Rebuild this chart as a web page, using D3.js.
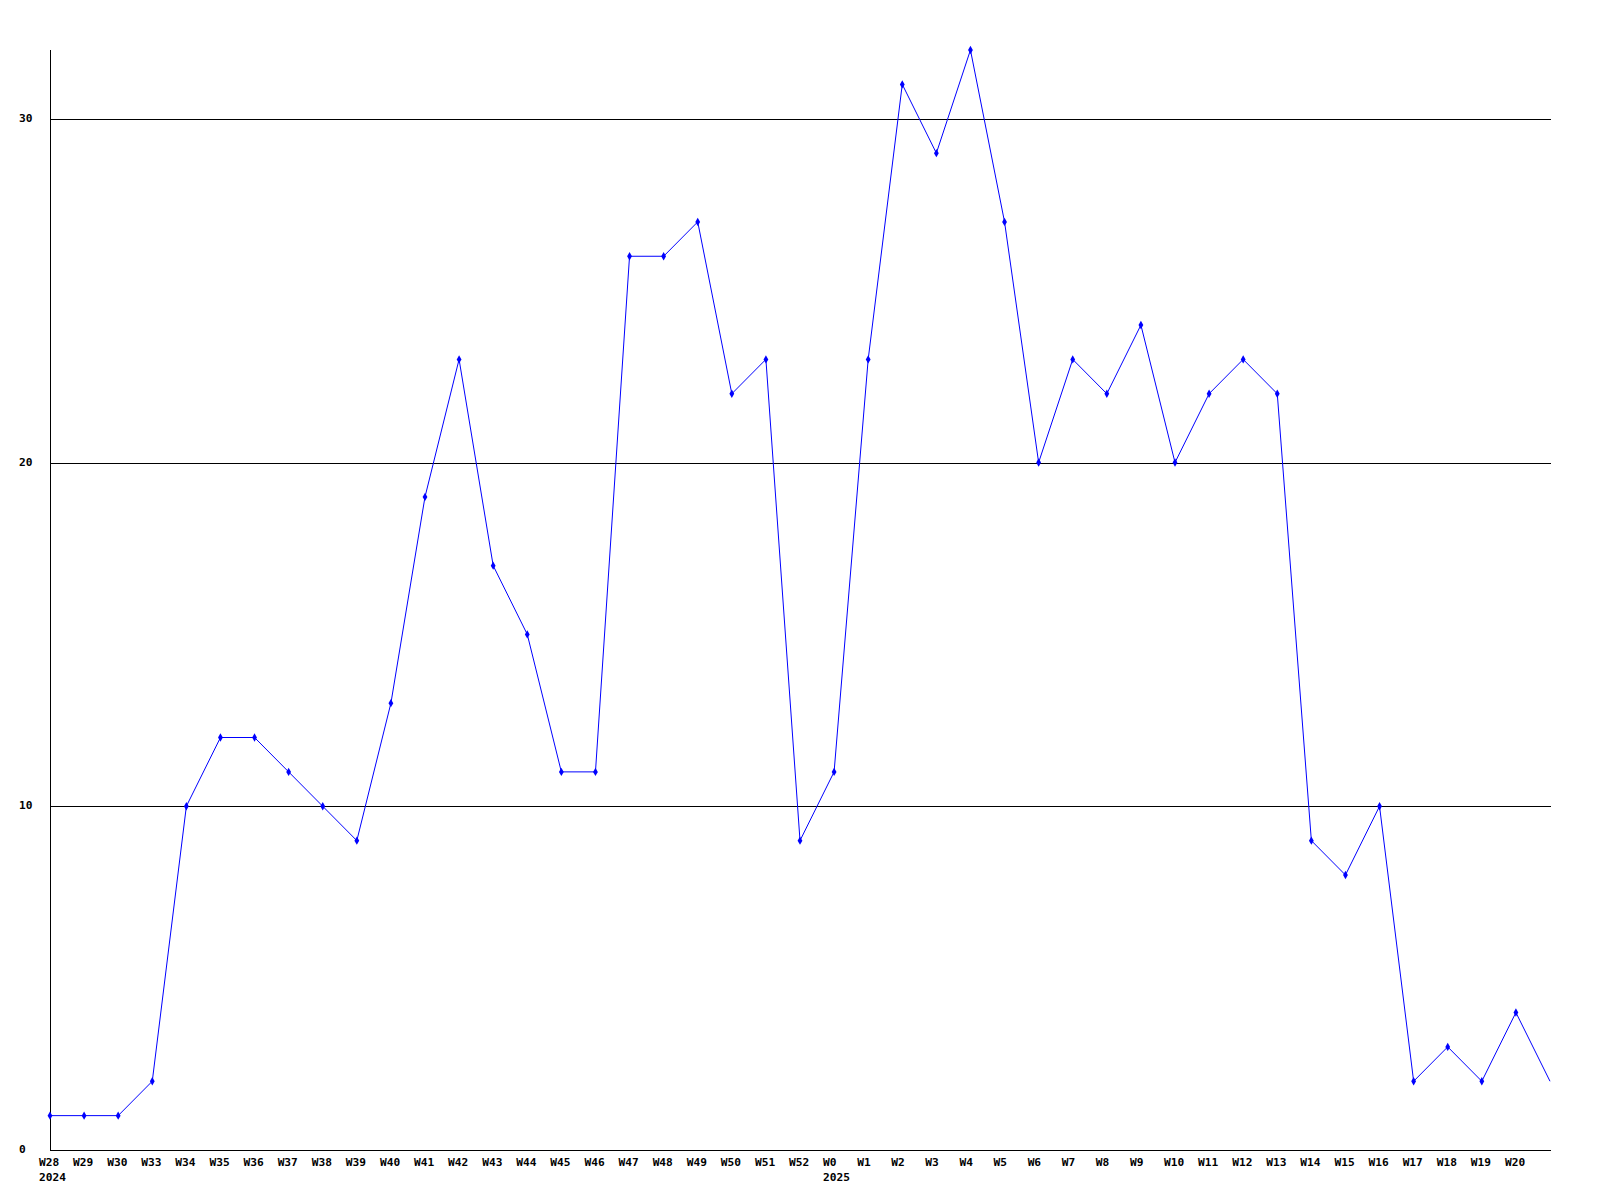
<!DOCTYPE html>
<html>
<head>
<meta charset="utf-8">
<script src="https://cdn.jsdelivr.net/npm/d3@7"></script>
<style>
  html, body { margin: 0; padding: 0; background: #fff; }
  svg { display: block; }
  text { font-family: "DejaVu Sans Mono", "Liberation Mono", monospace; font-weight: bold; font-size: 11.2px; fill: #000; }
</style>
</head>
<body>
<script>
// Week labels (x categories) shown under the axis
const weeks = ["W28","W29","W30","W33","W34","W35","W36","W37","W38","W39","W40","W41","W42","W43","W44","W45","W46","W47","W48","W49","W50","W51","W52",
               "W0","W1","W2","W3","W4","W5","W6","W7","W8","W9","W10","W11","W12","W13","W14","W15","W16","W17","W18","W19","W20"];
// trailing point at right edge (unlabelled, no marker)
const trailingWeek = "W21";
// Year labels placed under the first week of each year
const yearLabels = [{week: "W28", year: "2024"}, {week: "W0", year: "2025"}];
// Values per week (last value belongs to the trailing unlabelled point)
const values = [1,1,1,2,10,12,12,11,10,9,13,19,23,17,15,11,11,26,26,27,22,23,9,
                11,23,31,29,32,27,20,23,22,24,20,22,23,22,9,8,10,2,3,2,4,2];
const yTicks = [0,10,20,30];
const gridValues = [10,20,30];

const W = 1600, H = 1200;
const svg = d3.select("body").append("svg").attr("width", W).attr("height", H);

const allWeeks = weeks.concat([trailingWeek]);
const x = d3.scalePoint().domain(allWeeks).range([50, 1550]);
const y = d3.scaleLinear().domain([0, 32]).range([1150, 50]);

// gridlines
svg.append("g").selectAll("line").data(gridValues).join("line")
  .attr("x1", 50).attr("x2", 1551)
  .attr("y1", d => Math.round(y(d)) + 0.5).attr("y2", d => Math.round(y(d)) + 0.5)
  .attr("stroke", "#000").attr("stroke-width", 1).attr("shape-rendering", "crispEdges");

// axes lines
svg.append("line").attr("x1", 50.5).attr("x2", 50.5).attr("y1", 50).attr("y2", 1151)
  .attr("stroke", "#000").attr("shape-rendering", "crispEdges");
svg.append("line").attr("x1", 50).attr("x2", 1551).attr("y1", 1150.5).attr("y2", 1150.5)
  .attr("stroke", "#000").attr("shape-rendering", "crispEdges");

// y labels
svg.append("g").selectAll("text").data(yTicks).join("text")
  .attr("x", 19).attr("y", d => y(d) + 3)
  .text(d => d);

// x labels (left-aligned just before each point)
svg.append("g").selectAll("text").data(weeks).join("text")
  .attr("x", d => x(d) - 11).attr("y", 1166)
  .text(d => d);

// year labels, left aligned with week label
svg.append("g").selectAll("text").data(yearLabels).join("text")
  .attr("x", d => x(d.week) - 11).attr("y", 1181)
  .text(d => d.year);

// line
const pts = allWeeks.map((w, i) => ({w, v: values[i]}));
svg.append("path").datum(pts)
  .attr("d", d3.line().x(d => x(d.w)).y(d => y(d.v)))
  .attr("fill", "none").attr("stroke", "#0000ff").attr("stroke-width", 1);

// markers (diamonds), not on trailing point
const diamond = d3.symbol().type(d3.symbolDiamond).size(20);
svg.append("g").selectAll("path").data(pts.slice(0, weeks.length)).join("path")
  .attr("transform", d => `translate(${x(d.w)},${y(d.v)})`)
  .attr("d", diamond)
  .attr("fill", "#0000ff");
</script>
</body>
</html>
